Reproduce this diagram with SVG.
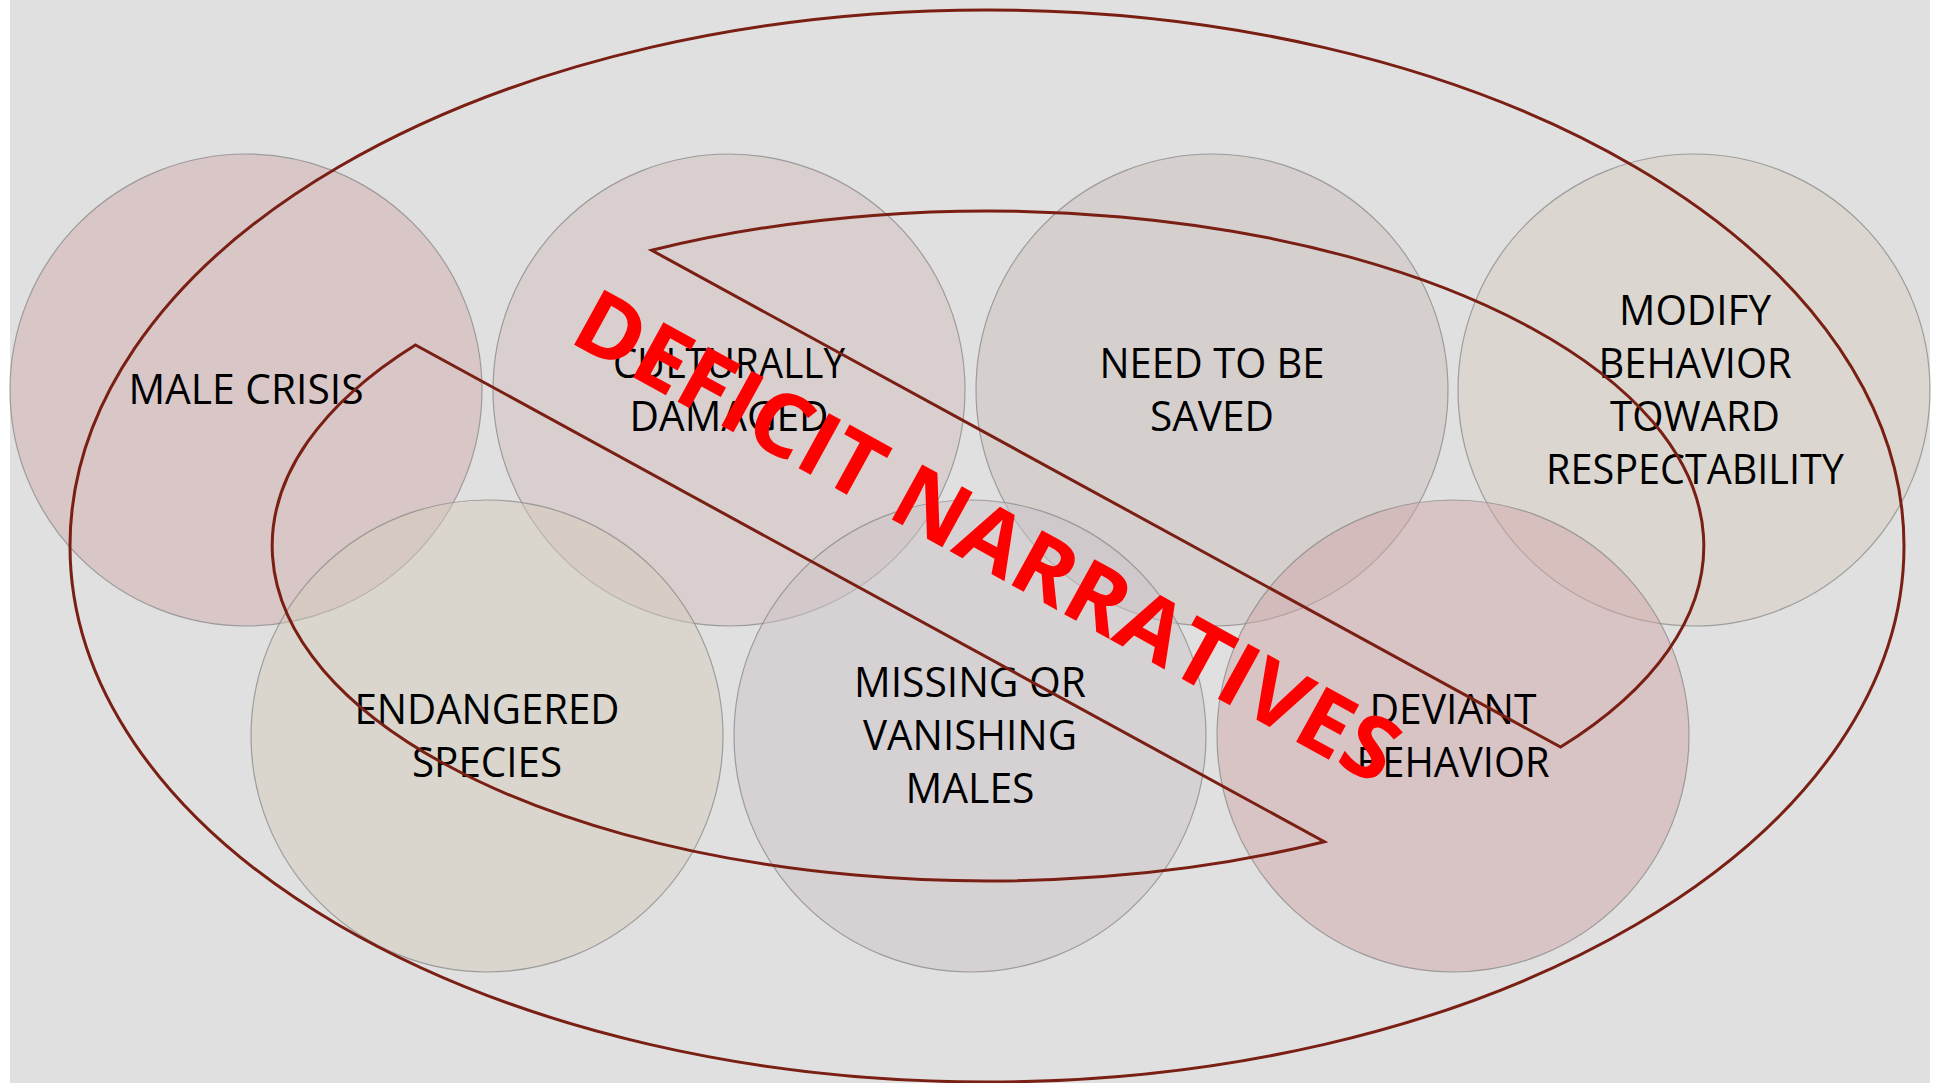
<svg xmlns="http://www.w3.org/2000/svg" width="1939" height="1083" viewBox="0 0 1939 1083">
  <style>
    .bub { stroke: #8c8c8c; stroke-width: 1.2; stroke-opacity: 0.8; }
    .lbl { font-family: "Open Sans", "Noto Sans", "Liberation Sans", sans-serif; font-size: 42px; fill: #000; text-anchor: middle; }
    .band { fill: none; stroke: #7a1f14; stroke-width: 3; stroke-linejoin: miter; }
    .title { font-family: "Open Sans", "Liberation Sans", sans-serif; font-weight: bold; font-size: 88px; fill: #ff0000; text-anchor: middle; }
  </style>
  <rect x="0" y="0" width="1939" height="1083" fill="#ffffff"/>
  <rect x="10" y="0" width="1920" height="1083" fill="#e0e0e0"/>

  <g id="node-male-crisis">
    <circle class="bub" cx="246" cy="390" r="236" fill="rgb(210,172,174)" fill-opacity="0.5"/>
  </g>
  <g id="node-culturally-damaged">
    <circle class="bub" cx="729" cy="390" r="236" fill="rgb(212,190,190)" fill-opacity="0.5"/>
  </g>
  <g id="node-need-to-be-saved">
    <circle class="bub" cx="1212" cy="390" r="236" fill="rgb(202,190,188)" fill-opacity="0.5"/>
  </g>
  <g id="node-modify-behavior">
    <circle class="bub" cx="1694" cy="390" r="236" fill="rgb(214,206,192)" fill-opacity="0.5"/>
  </g>
  <g id="node-endangered-species">
    <circle class="bub" cx="487" cy="736" r="236" fill="rgb(212,204,188)" fill-opacity="0.5"/>
  </g>
  <g id="node-missing-males">
    <circle class="bub" cx="970" cy="736" r="236" fill="rgb(204,196,200)" fill-opacity="0.5"/>
  </g>
  <g id="node-deviant-behavior">
    <circle class="bub" cx="1453" cy="736" r="236" fill="rgb(210,168,170)" fill-opacity="0.5"/>
  </g>

  <g id="labels">
    <text class="lbl" x="246" y="404" textLength="235" lengthAdjust="spacingAndGlyphs">MALE CRISIS</text>
    <text class="lbl" x="729" y="378" textLength="232" lengthAdjust="spacingAndGlyphs">CULTURALLY</text>
    <text class="lbl" x="729" y="431" textLength="199" lengthAdjust="spacingAndGlyphs">DAMAGED</text>
    <text class="lbl" x="1212" y="378" textLength="225" lengthAdjust="spacingAndGlyphs">NEED TO BE</text>
    <text class="lbl" x="1212" y="431" textLength="124" lengthAdjust="spacingAndGlyphs">SAVED</text>
    <text class="lbl" x="1695" y="325" textLength="152" lengthAdjust="spacingAndGlyphs">MODIFY</text>
    <text class="lbl" x="1695" y="378" textLength="193" lengthAdjust="spacingAndGlyphs">BEHAVIOR</text>
    <text class="lbl" x="1695" y="431" textLength="170" lengthAdjust="spacingAndGlyphs">TOWARD</text>
    <text class="lbl" x="1695" y="484" textLength="298" lengthAdjust="spacingAndGlyphs">RESPECTABILITY</text>
    <text class="lbl" x="487" y="723.5" textLength="265" lengthAdjust="spacingAndGlyphs">ENDANGERED</text>
    <text class="lbl" x="487" y="776.5" textLength="150" lengthAdjust="spacingAndGlyphs">SPECIES</text>
    <text class="lbl" x="970" y="696.5" textLength="232" lengthAdjust="spacingAndGlyphs">MISSING OR</text>
    <text class="lbl" x="970" y="749.5" textLength="214" lengthAdjust="spacingAndGlyphs">VANISHING</text>
    <text class="lbl" x="970" y="802.5" textLength="129" lengthAdjust="spacingAndGlyphs">MALES</text>
    <text class="lbl" x="1453" y="723.5" textLength="167" lengthAdjust="spacingAndGlyphs">DEVIANT</text>
    <text class="lbl" x="1453" y="776.5" textLength="193" lengthAdjust="spacingAndGlyphs">BEHAVIOR</text>
  </g>

  <g id="connectors">
    <ellipse class="band" cx="987" cy="546" rx="917" ry="536"/>
    <path class="band" d="M651.7,250.3 A716,335 0 0 1 1560.6,747.1 Z"/>
    <path class="band" d="M1324.3,841.7 A716,335 0 0 1 415.4,344.9 Z"/>
  </g>

  <g id="title">
    <text class="title" transform="translate(987.4,536) rotate(28.8)" x="0" y="31.5" textLength="925" lengthAdjust="spacingAndGlyphs">DEFICIT NARRATIVES</text>
  </g>
</svg>
